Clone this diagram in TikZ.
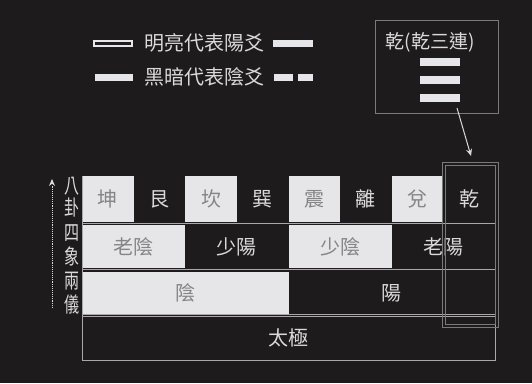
\documentclass[tikz,border=0pt]{standalone}
\usepackage{fontspec}
\newfontfamily\cjk{Noto Sans CJK TC}
\usetikzlibrary{arrows.meta}
\definecolor{bg}{HTML}{1E1B1C}
\definecolor{lite}{HTML}{E6E6E8}
\definecolor{ink}{HTML}{858587}
\definecolor{pale}{HTML}{DADADA}
\definecolor{rulec}{HTML}{A8A8AA}
\definecolor{framec}{HTML}{7A7A7A}
\tikzset{
  cellbase/.style={rectangle, inner sep=0pt, outer sep=0pt, font=\cjk\fontsize{20}{20}\selectfont},
  wcell/.style={cellbase, fill=lite, text=ink},
  bcell/.style={cellbase, fill=bg, text=pale},
  sidelbl/.style={inner sep=0pt, text=pale, font=\cjk\fontsize{15}{15}\selectfont, yscale=1.4},
  legtxt/.style={inner sep=0pt, text=pale, font=\cjk\fontsize{20}{20}\selectfont},
  bar/.style={fill=lite, draw=none},
  grayrule/.style={draw=rulec, line width=0.8pt},
}
\begin{document}
\begin{tikzpicture}[x=1pt,y=-1pt]
\fill[bg] (0,0) rectangle (532,383);
\useasboundingbox (0,0) rectangle (532,383);

% legend
\node[draw=lite, line width=1.2pt, minimum width=38pt, minimum height=5pt, inner sep=0pt] (l1a) at (113,43.5) {};
\node[legtxt] (l1t) at (204,43) {明亮代表陽爻};
\node[bar, minimum width=40pt, minimum height=7pt, inner sep=0pt] (l1b) at (293,43.5) {};
\node[bar, minimum width=38pt, minimum height=7pt, inner sep=0pt] (l2a) at (114,77.5) {};
\node[legtxt] (l2t) at (204,77) {黑暗代表陰爻};
\node[bar, minimum width=19pt, minimum height=7pt, inner sep=0pt] (l2b) at (283,77.5) {};
\node[bar, minimum width=15pt, minimum height=7pt, inner sep=0pt] (l2c) at (305.5,77.5) {};

% qian box
\node[draw=framec, line width=0.8pt, minimum width=123pt, minimum height=93pt, inner sep=0pt] (qbox) at (436.5,66.5) {};
\node[legtxt, font=\cjk\fontsize{19}{19}\selectfont] (qtxt) at (430,42) {乾(乾三連)};
\node[bar, minimum width=40pt, minimum height=8pt, inner sep=0pt] (q1) at (440,62) {};
\node[bar, minimum width=40pt, minimum height=8pt, inner sep=0pt] (q2) at (440,80) {};
\node[bar, minimum width=40pt, minimum height=8pt, inner sep=0pt] (q3) at (440,98) {};

% row 1: eight trigrams
\node[wcell, minimum width=51.6pt, minimum height=46pt] (c1) at (107.8,199) {坤};
\node[bcell, minimum width=51.6pt, minimum height=46pt] (c2) at (159.4,199) {艮};
\node[wcell, minimum width=51.6pt, minimum height=46pt] (c3) at (211.1,199) {坎};
\node[bcell, minimum width=51.6pt, minimum height=46pt] (c4) at (262.7,199) {巽};
\node[wcell, minimum width=51.6pt, minimum height=46pt] (c5) at (314.3,199) {震};
\node[bcell, minimum width=51.6pt, minimum height=46pt] (c6) at (365.9,199) {離};
\node[wcell, minimum width=51.6pt, minimum height=46pt] (c7) at (417.6,199) {兌};
\node[bcell, minimum width=51.6pt, minimum height=46pt] (c8) at (469.2,199) {乾};

% row 2: four images
\node[wcell, minimum width=103.2pt, minimum height=43pt] (s1) at (133.6,246.5) {老陰};
\node[bcell, minimum width=103.2pt, minimum height=43pt] (s2) at (236.9,246.5) {少陽};
\node[wcell, minimum width=103.2pt, minimum height=43pt] (s3) at (340.1,246.5) {少陰};
\node[bcell, minimum width=103.2pt, minimum height=43pt] (s4) at (443.4,246.5) {老陽};

% row 3: two modes
\node[wcell, minimum width=206.5pt, minimum height=43pt] (y1) at (185.25,293) {陰};
\node[bcell, minimum width=206.5pt, minimum height=43pt] (y2) at (391.75,293) {陽};

% row 4
\node[bcell, draw=rulec, line width=0.8pt, minimum width=413pt, minimum height=44pt] (tj) at (288.5,338) {太極};

% separators
\draw[grayrule] (c1.south west) ++(0,1.5) coordinate (r1l) -- (r1l -| c8.east);
\draw[grayrule] (s1.south west) ++(0,1.5) coordinate (r2l) -- (r2l -| s4.east);
\draw[grayrule] (y1.south west) -- (y2.south east);
\draw[grayrule] (c1.north west) -- (tj.north west);

% highlight frame around qian column (on top of the cells)
\node[draw=framec, line width=0.7pt, minimum width=56pt, minimum height=165pt, inner sep=0pt] (hl) at (470,244.5) {};
\node[draw=framec, line width=0.7pt, minimum width=50pt, minimum height=159pt, inner sep=0pt] (hlin) at (470,244.5) {};
\coordinate (as) at (457,108);
\coordinate (ae) at (471,156);
\draw[pale, line width=1pt, -{Stealth[length=7pt,width=6pt]}] (as) -- (ae);

% side labels
\coordinate (sa) at (52,308);
\coordinate (se) at (52,179);
\draw[pale, line width=0.9pt, densely dotted] (sa) -- ([yshift=-6pt]se);
\draw[pale, line width=0.9pt, -{Stealth[length=7pt,width=6pt]}] ([yshift=-4pt]se) -- (se);
\node[sidelbl] (k1) at (72,186) {八};
\node[sidelbl] (k2) at (72,208) {卦};
\node[sidelbl] (k3) at (72,233) {四};
\node[sidelbl] (k4) at (72,256) {象};
\node[sidelbl] (k5) at (72,281) {兩};
\node[sidelbl] (k6) at (72,304) {儀};
\end{tikzpicture}
\end{document}
